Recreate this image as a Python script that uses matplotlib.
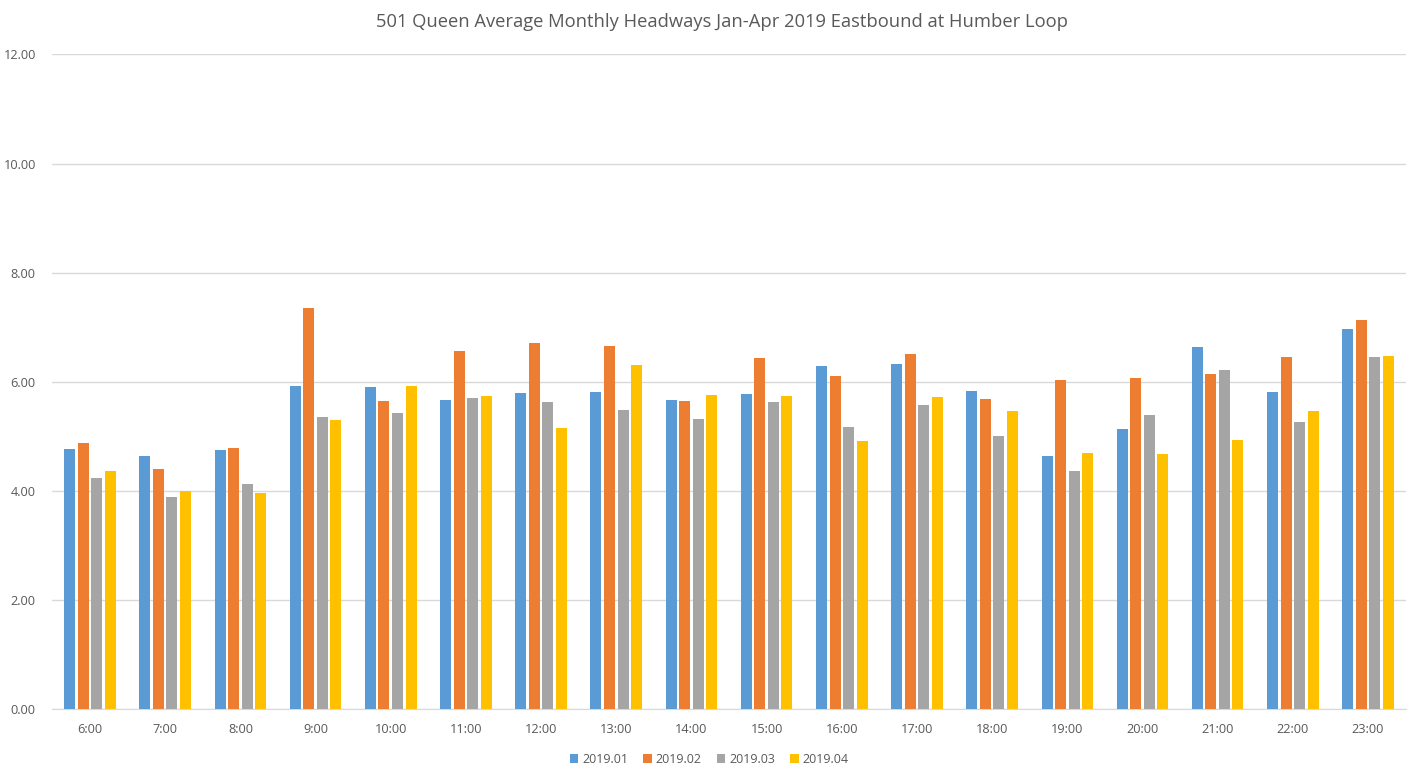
import matplotlib.pyplot as plt
import numpy as np

plt.rcParams['font.family'] = ['Open Sans', 'DejaVu Sans']

hours = ['6:00', '7:00', '8:00', '9:00', '10:00', '11:00', '12:00', '13:00', '14:00',
         '15:00', '16:00', '17:00', '18:00', '19:00', '20:00', '21:00', '22:00', '23:00']
months = ['2019.01', '2019.02', '2019.03', '2019.04']

jan = [4.77, 4.64, 4.74, 5.93, 5.91, 5.67, 5.80, 5.81, 5.67, 5.78, 6.29, 6.33, 5.83, 4.64, 5.14, 6.64, 5.81, 6.97]
feb = [4.88, 4.39, 4.79, 7.35, 5.65, 6.57, 6.71, 6.66, 5.65, 6.44, 6.11, 6.51, 5.69, 6.04, 6.07, 6.14, 6.45, 7.13]
mar = [4.24, 3.89, 4.13, 5.36, 5.43, 5.71, 5.63, 5.49, 5.32, 5.62, 5.17, 5.58, 5.01, 4.37, 5.39, 6.22, 5.27, 6.45]
apr = [4.37, 4.00, 3.95, 5.30, 5.93, 5.74, 5.16, 6.31, 5.76, 5.74, 4.92, 5.72, 5.47, 4.70, 4.68, 4.93, 5.47, 6.47]

colors = ['#5B9BD5', '#ED7D31', '#A5A5A5', '#FFC000']
series = [jan, feb, mar, apr]

fig = plt.figure(figsize=(14.1, 7.74), dpi=100)
ax = fig.add_axes([0.0372, 0.0841, 0.9597, 0.8455])

x = np.arange(len(hours))
step = 0.18
width = 0.146
for i, (vals, name) in enumerate(zip(series, months)):
    ax.bar(x + (i - 1.5) * step, vals, width, color=colors[i], label=name, zorder=3)

ax.set_xlim(-0.5, len(hours) - 0.5)
ax.set_ylim(0, 12)
ax.set_yticks(np.arange(0, 12.01, 2))
ax.set_yticklabels(['%.2f' % v for v in np.arange(0, 12.01, 2)])
ax.set_xticks(x)
ax.set_xticklabels(hours)
ax.grid(axis='y', color='#D9D9D9', linewidth=1, zorder=0)
for s in ['top', 'right', 'left']:
    ax.spines[s].set_visible(False)
ax.spines['bottom'].set_color('#D9D9D9')
ax.tick_params(axis='both', length=0, colors='#595959', labelsize=9.2)
ax.tick_params(axis='x', pad=10)
ax.tick_params(axis='y', pad=12)

fig.text(0.512, 0.971, '501 Queen Average Monthly Headways Jan-Apr 2019 Eastbound at Humber Loop',
         ha='center', va='center', fontsize=13.2, color='#595959')

fig.legend(loc='center', bbox_to_anchor=(0.503, 0.019), ncol=4, frameon=False,
           fontsize=9, labelcolor='#595959', handlelength=0.7, handleheight=0.7,
           handletextpad=0.3, columnspacing=1.2)

fig.savefig('out.png', dpi=100)
